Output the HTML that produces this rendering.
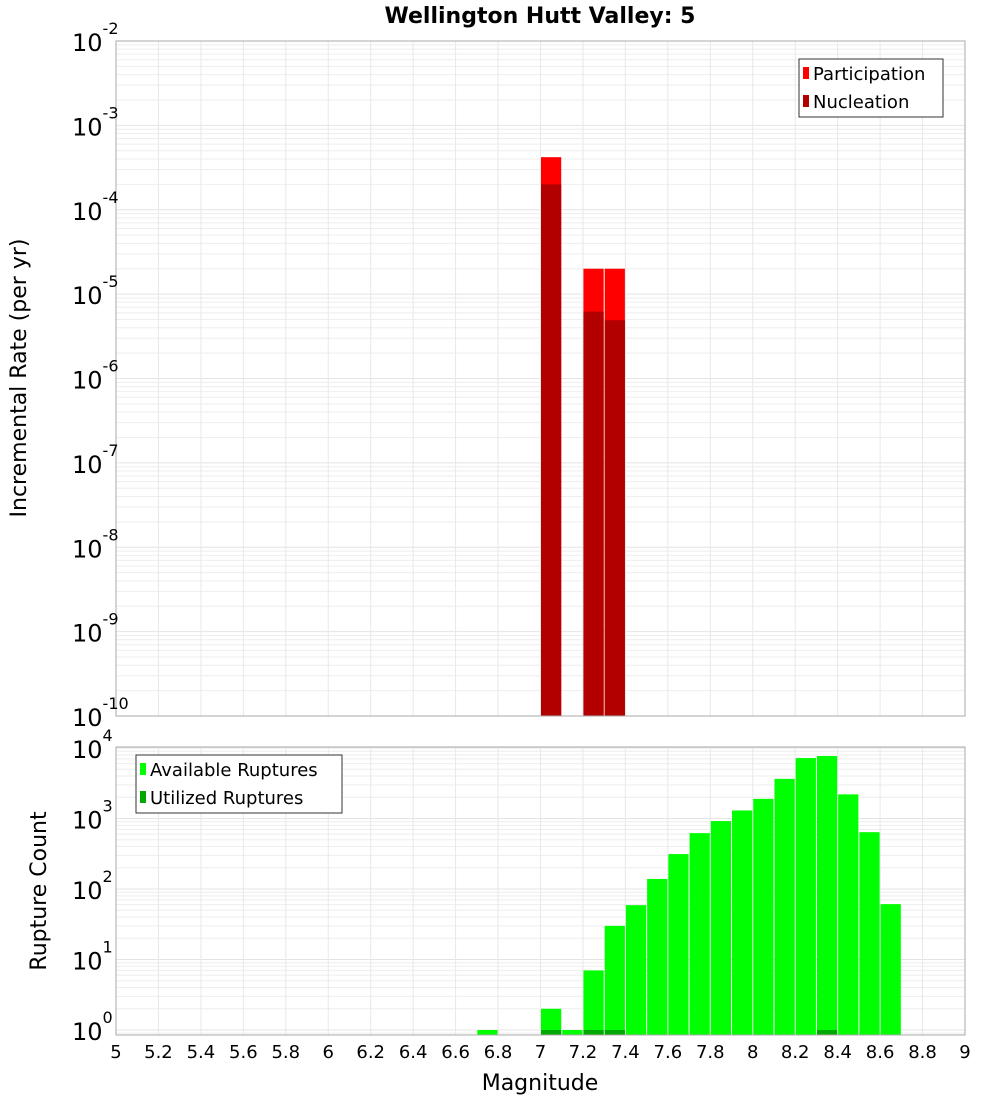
<!DOCTYPE html>
<html><head><meta charset="utf-8"><style>
body{margin:0;background:#fff;}
svg{display:block;font-family:"DejaVu Sans","Liberation Sans",sans-serif;}
</style></head><body>
<svg id="c" width="1000" height="1100"></svg>
<script>
const binCenters=[7.05,7.25,7.35];
const participation=[4.2e-4,2e-5,2e-5];
const nucleation=[2.0e-4,6.2e-6,4.9e-6];
const countBins=[6.75,7.05,7.15,7.25,7.35,7.45,7.55,7.65,7.75,7.85,7.95,8.05,8.15,8.25,8.35,8.45,8.55,8.65];
const availableCounts=[1,2,1,7,30,59,139,313,620,920,1300,1900,3650,7200,7700,2200,640,61];
const utilizedBins=[7.05,7.25,7.35,8.35];
const utilizedCounts=[1,1,1,1];
const xTicks=["5","5.2","5.4","5.6","5.8","6","6.2","6.4","6.6","6.8","7","7.2","7.4","7.6","7.8","8","8.2","8.4","8.6","8.8","9"];
const topExps=[-2,-3,-4,-5,-6,-7,-8,-9,-10];
const botExps=[4,3,2,1,0];

const NS="http://www.w3.org/2000/svg",svg=document.getElementById('c');
function el(t,a,p){const e=document.createElementNS(NS,t);for(const k in a)e.setAttribute(k,a[k]);(p||svg).appendChild(e);return e;}
const L=116,R=965;
const x=v=>L+(v-5)/4*(R-L);
const T0=41,T1=716; const yT=v=>T1-(Math.log10(v)+10)/8*(T1-T0);
const B0=747,B1=1035; const yB=v=>1030-Math.log10(v)*70.5;

function grid(top,bot,yf,lo,hi){
  for(let d=lo;d<hi;d++)for(let m=1;m<10;m++){const yy=yf(m*Math.pow(10,d));if(yy<top-0.5||yy>bot)continue;
    const g=el('line',{x1:L,x2:R,y1:yy,y2:yy,stroke:m==1?'#e4e4e4':'#eeeeee','stroke-width':1});
    
    }
  for(let i=0;i<=20;i++){const xx=x(5+i*0.2);
    const g=el('line',{x1:xx,x2:xx,y1:top,y2:bot,stroke:'#e8e8e8'});
    
    }
}
grid(T0,T1,yT,-10,-1);
grid(B0,B1,yB,-1,5);

const hw=(x(5.1)-x(5))/2;
binCenters.forEach((c,i)=>{
  const p=el('rect',{x:x(c)-hw+0.5,width:2*hw-1,y:yT(participation[i]),height:T1-yT(participation[i]),fill:'#ff0000'});
  
  
  const n=el('rect',{x:x(c)-hw+0.5,width:2*hw-1,y:yT(nucleation[i]),height:T1-yT(nucleation[i]),fill:'#b20000'});
  
  
});
countBins.forEach((c,i)=>{
  const yy=Math.max(B0,yB(availableCounts[i]));
  const b=el('rect',{x:x(c)-hw+0.5,width:2*hw-1,y:yy,height:B1-yy,fill:'#00ff00'});
  
  
});
utilizedBins.forEach((c,i)=>{
  const yy=yB(utilizedCounts[i]);
  const b=el('rect',{x:x(c)-hw+0.5,width:2*hw-1,y:yy,height:B1-yy,fill:'#00a800'});
  
  
});

[[T0,T1,'top-plot-frame'],[B0,B1,'bottom-plot-frame']].forEach(f=>{
  const r=el('rect',{x:L,y:f[0],width:R-L,height:f[1]-f[0],fill:'none',stroke:'#aaaaaa'});
  
  
});

function powLabel(yy,e,name){
  const t=el('text',{x:72,y:yy+10,'font-size':24,fill:'#000'});
  
  
  t.textContent='10';
  const s=el('tspan',{dy:-17,'font-size':16},t); s.textContent=String(e);
}
topExps.forEach(e=>powLabel(yT(Math.pow(10,e)),e,'y-tick-label'));
botExps.forEach(e=>powLabel(yB(Math.pow(10,e)),e,'y-tick-label'));

xTicks.forEach(s=>{
  const t=el('text',{x:x(parseFloat(s)),y:1058,'font-size':18,'text-anchor':'middle'});
  
  
  t.textContent=s;
});

function txt(a,s,name){const t=el('text',a);t.textContent=s;
  
  return t;}
txt({x:540,y:23,'font-size':22,'font-weight':'bold','text-anchor':'middle'},'Wellington Hutt Valley: 5','chart-title');
txt({x:540,y:1090,'font-size':22,'text-anchor':'middle'},'Magnitude','x-axis-title');
txt({x:26,y:378,'font-size':22,'text-anchor':'middle',transform:'rotate(-90 26 378)'},'Incremental Rate (per yr)','y-axis-title-top');
txt({x:46,y:891,'font-size':22,'text-anchor':'middle',transform:'rotate(-90 46 891)'},'Rupture Count','y-axis-title-bottom');

function legend(x0,y0,w,items,name){
  const g=el('g',{});
  
  
  el('rect',{x:x0,y:y0,width:w,height:58,fill:'#fff',stroke:'#333'},g);
  items.forEach((it,i)=>{
    el('rect',{x:x0+4,y:y0+8+i*28,width:6,height:12,fill:it[1]},g);
    const t=el('text',{x:x0+14,y:y0+21+i*28,'font-size':18},g);t.textContent=it[0];
  });
}
legend(799,59,144,[['Participation','#ff0000'],['Nucleation','#b20000']],'legend-top');
legend(136,755,206,[['Available Ruptures','#00ff00'],['Utilized Ruptures','#00a800']],'legend-bottom');
</script>
</body></html>
